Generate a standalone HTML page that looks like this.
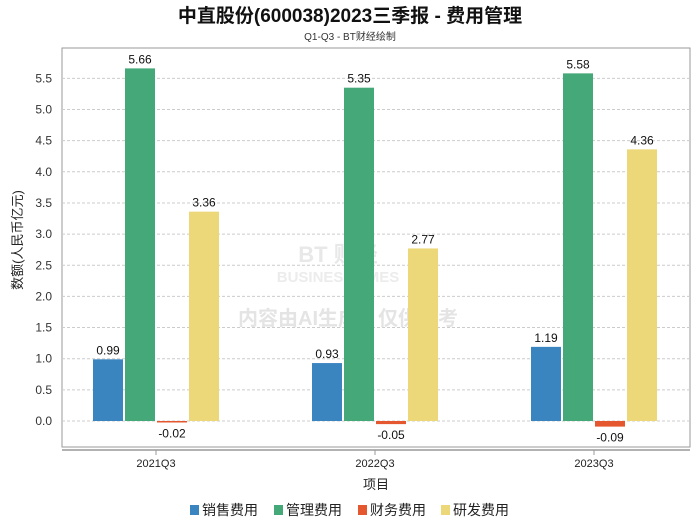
<!DOCTYPE html>
<html><head><meta charset="utf-8"><style>
body{margin:0;background:#fff;font-family:"Liberation Sans","Noto Sans CJK SC",sans-serif;}
svg text{font-family:"Liberation Sans","Noto Sans CJK SC",sans-serif;}
</style></head><body>
<svg width="700" height="524" xmlns="http://www.w3.org/2000/svg">
<text x="350" y="22" text-anchor="middle" font-size="19" font-weight="bold" fill="#111">中直股份(600038)2023三季报 - 费用管理</text>
<text x="350" y="40" text-anchor="middle" font-size="10" fill="#333">Q1-Q3 - BT财经绘制</text>
<rect x="62" y="48" width="628" height="399" fill="none" stroke="#999"/>
<g id="grid"></g>
<text x="338" y="262" text-anchor="middle" font-size="22" font-weight="bold" fill="#e8e8e8">BT 财经</text>
<text x="338" y="282" text-anchor="middle" font-size="15" font-weight="bold" fill="#ececec">BUSINESSTIMES</text>
<text x="348" y="325" text-anchor="middle" font-size="20" font-weight="bold" fill="#e4e4e4">内容由AI生成，仅供参考</text>
<g id="bars"></g>
<line x1="62" y1="450" x2="690" y2="450" stroke="#999" stroke-width="1.5"/>
<g id="xlab"></g>
<text x="22" y="240" text-anchor="middle" font-size="13" fill="#222" transform="rotate(-90 22 240)">数额(人民币亿元)</text>
<text x="376" y="489" text-anchor="middle" font-size="13" fill="#222">项目</text>
<g id="legend"></g>
</svg>
<script>
const categories=["2021Q3","2022Q3","2023Q3"];
const seriesNames=["销售费用","管理费用","财务费用","研发费用"];
const colors=["#3a84c0","#44a878","#e5572f","#ecd878"];
const sales=[0.99,0.93,1.19];
const admin=[5.66,5.35,5.58];
const finance=[-0.02,-0.05,-0.09];
const rnd=[3.36,2.77,4.36];
const yTicks=[0.0,0.5,1.0,1.5,2.0,2.5,3.0,3.5,4.0,4.5,5.0,5.5];
const NS="http://www.w3.org/2000/svg";
const series=[sales,admin,finance,rnd];
function y(v){return 421-v*62.3;}
function gx(i){return 156+219*i;}
function mk(tag,attrs,parent){const e=document.createElementNS(NS,tag);for(const k in attrs)e.setAttribute(k,attrs[k]);parent.appendChild(e);return e;}
const grid=document.getElementById('grid');
yTicks.forEach(t=>{
 const l=mk('line',{x1:62,x2:690,y1:y(t),y2:y(t),stroke:'#ccc','stroke-dasharray':'3,2'},grid);
 
 
 const tx=mk('text',{x:52,y:y(t)+4,'text-anchor':'end','font-size':12,fill:'#333'},grid);
 tx.textContent=t.toFixed(1);
 
 
});
const bars=document.getElementById('bars');
const bw=30,gap=2;
categories.forEach((c,i)=>{
 const start=gx(i)-(4*bw+3*gap)/2;
 series.forEach((s,j)=>{
  const v=s[i];const x=start+j*(bw+gap);
  const top=Math.min(y(v),y(0)),h=Math.max(Math.abs(y(v)-y(0)),1.5);
  const r=mk('rect',{x:x,y:top,width:bw,height:h,fill:colors[j]},bars);
  
  
  const ty=v>=0?y(v)-5:y(0)+h+15;
  const t=mk('text',{x:x+bw/2,y:ty,'text-anchor':'middle','font-size':12,fill:'#111'},bars);
  t.textContent=v.toFixed(2);
  
  
 });
});
const xl=document.getElementById('xlab');
categories.forEach((c,i)=>{
 const tk=mk('line',{x1:gx(i),x2:gx(i),y1:450,y2:455,stroke:'#999'},xl);
 
 
 const t=mk('text',{x:gx(i),y:467,'text-anchor':'middle','font-size':11,fill:'#222'},xl);
 t.textContent=c;
 
 
});
const lg=document.getElementById('legend');
const lx=[190,274,358,441];
seriesNames.forEach((n,j)=>{
 const g=mk('g',{},lg);
 
 
 mk('rect',{x:lx[j],y:505,width:9,height:10,fill:colors[j]},g);
 const t=mk('text',{x:lx[j]+12,y:515,'font-size':14,fill:'#222'},g);
 t.textContent=n;
});
</script>
</body></html>
